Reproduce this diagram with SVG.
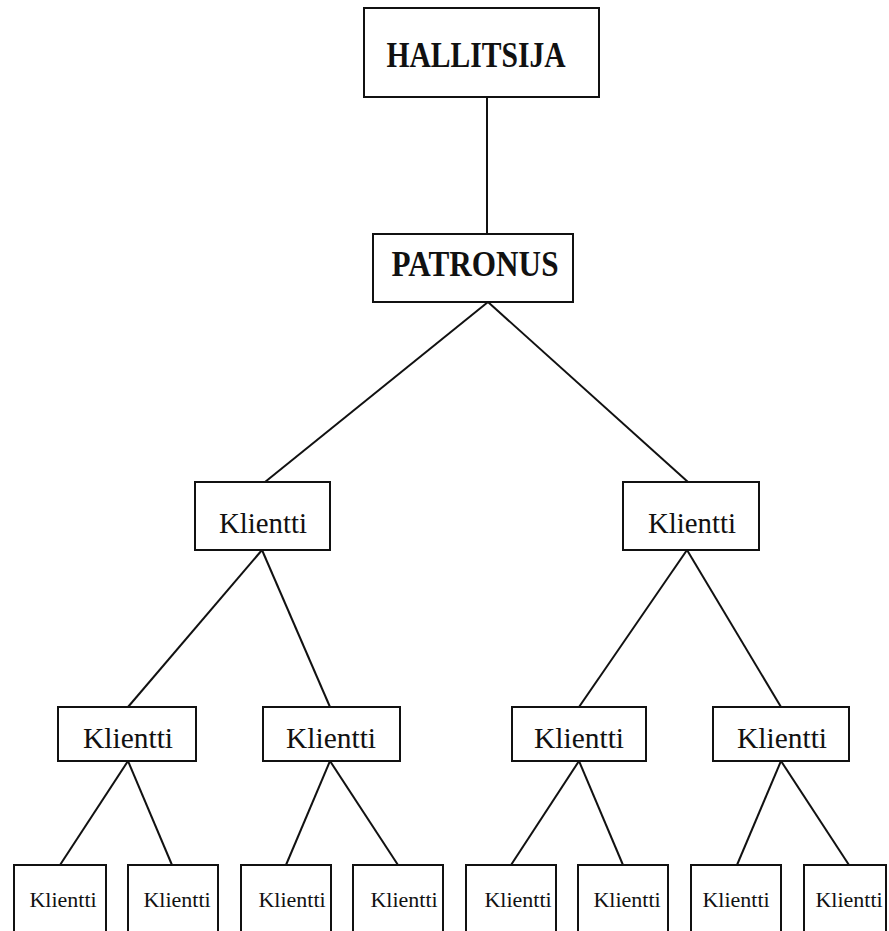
<svg xmlns="http://www.w3.org/2000/svg" width="889" height="931" viewBox="0 0 889 931">
<style>
rect{fill:#fff;stroke:#111;stroke-width:2}
.c line{stroke:#111;stroke-width:2}
text{font-family:"Liberation Serif","Times New Roman",serif;fill:#111;text-anchor:middle}
.b{font-weight:bold;font-size:36px}
.m{font-size:30px}
.s{font-size:22px}
</style>
<rect width="889" height="931" style="fill:#fff;stroke:none"/>
<g class="c" id="connectors">
<line x1="487" y1="97" x2="487" y2="234"/>
<line x1="488" y1="302" x2="265" y2="482"/>
<line x1="488" y1="302" x2="688" y2="482"/>
<line x1="262" y1="550" x2="128" y2="707"/>
<line x1="262" y1="550" x2="330" y2="707"/>
<line x1="687" y1="550" x2="579" y2="707"/>
<line x1="687" y1="550" x2="781" y2="707"/>
<line x1="128" y1="761" x2="60" y2="865"/>
<line x1="128" y1="761" x2="172" y2="865"/>
<line x1="330" y1="761" x2="286" y2="865"/>
<line x1="330" y1="761" x2="398" y2="865"/>
<line x1="579" y1="761" x2="511" y2="865"/>
<line x1="579" y1="761" x2="623" y2="865"/>
<line x1="781" y1="761" x2="737" y2="865"/>
<line x1="781" y1="761" x2="849" y2="865"/>
</g>
<g id="hallitsija"><rect x="364" y="8" width="235" height="89"/><text class="b" x="476" y="67" textLength="179" lengthAdjust="spacingAndGlyphs">HALLITSIJA</text></g>
<g id="patronus"><rect x="373" y="234" width="200" height="68"/><text class="b" x="475" y="276" textLength="167" lengthAdjust="spacingAndGlyphs">PATRONUS</text></g>
<g id="k1a"><rect x="195" y="482" width="135" height="68"/><text class="m" x="263" y="533" textLength="88" lengthAdjust="spacingAndGlyphs">Klientti</text></g>
<g id="k1b"><rect x="623" y="482" width="136" height="68"/><text class="m" x="692" y="533" textLength="88" lengthAdjust="spacingAndGlyphs">Klientti</text></g>
<g id="k2a"><rect x="58" y="707" width="138" height="54"/><text class="m" x="128" y="748" textLength="90" lengthAdjust="spacingAndGlyphs">Klientti</text></g>
<g id="k2b"><rect x="263" y="707" width="137" height="54"/><text class="m" x="331" y="748" textLength="90" lengthAdjust="spacingAndGlyphs">Klientti</text></g>
<g id="k2c"><rect x="512" y="707" width="134" height="54"/><text class="m" x="579" y="748" textLength="90" lengthAdjust="spacingAndGlyphs">Klientti</text></g>
<g id="k2d"><rect x="713" y="707" width="136" height="54"/><text class="m" x="782" y="748" textLength="90" lengthAdjust="spacingAndGlyphs">Klientti</text></g>
<g id="k3a"><rect x="14" y="865" width="92" height="80"/><text class="s" x="63" y="907">Klientti</text></g>
<g id="k3b"><rect x="128" y="865" width="90" height="80"/><text class="s" x="177" y="907">Klientti</text></g>
<g id="k3c"><rect x="241" y="865" width="90" height="80"/><text class="s" x="292" y="907">Klientti</text></g>
<g id="k3d"><rect x="353" y="865" width="90" height="80"/><text class="s" x="404" y="907">Klientti</text></g>
<g id="k3e"><rect x="466" y="865" width="90" height="80"/><text class="s" x="518" y="907">Klientti</text></g>
<g id="k3f"><rect x="578" y="865" width="90" height="80"/><text class="s" x="627" y="907">Klientti</text></g>
<g id="k3g"><rect x="691" y="865" width="90" height="80"/><text class="s" x="736" y="907">Klientti</text></g>
<g id="k3h"><rect x="804" y="865" width="82" height="80"/><text class="s" x="849" y="907">Klientti</text></g>
</svg>
